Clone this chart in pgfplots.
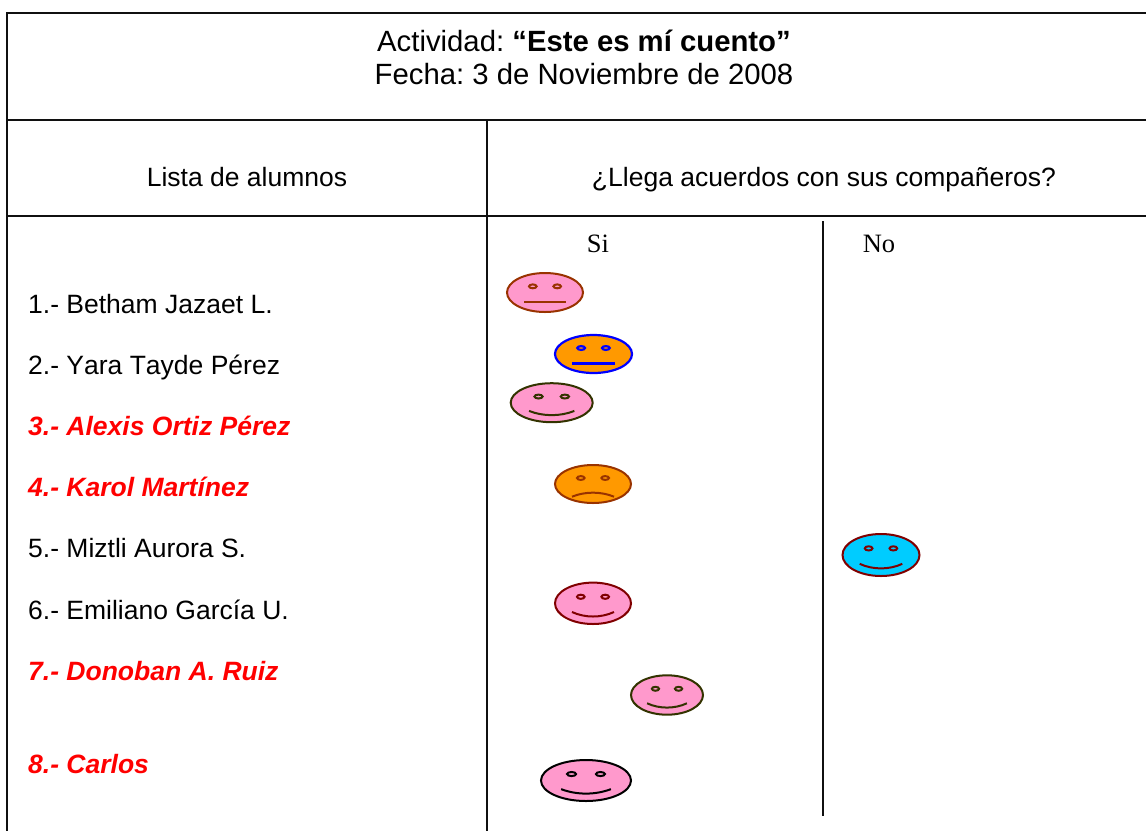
\documentclass[border=0pt]{standalone}
\usepackage{pgfplots}
\pgfplotsset{compat=1.18}
\usepackage{fontspec}
\setmainfont[Kerning=Off]{Liberation Sans}
\newfontfamily\serifsi{Liberation Serif}
\definecolor{fpink}{HTML}{FF99CC}
\definecolor{forange}{HTML}{FF9900}
\definecolor{fblue}{HTML}{00CCFF}
\definecolor{sbrown}{HTML}{993300}
\definecolor{solive}{HTML}{333300}
\definecolor{sred}{HTML}{800000}
\definecolor{rule}{HTML}{101010}
% nominal face: half-axes 38 x 19
\newcommand{\facebase}{%
  \pgfpathellipse{\pgfpointorigin}{\pgfqpoint{38pt}{0pt}}{\pgfqpoint{0pt}{19pt}}%
  \pgfusepathqfillstroke
  \pgfpathellipse{\pgfqpoint{-12.2pt}{6pt}}{\pgfqpoint{3.8pt}{0pt}}{\pgfqpoint{0pt}{1.9pt}}%
  \pgfpathellipse{\pgfqpoint{12.2pt}{6pt}}{\pgfqpoint{3.8pt}{0pt}}{\pgfqpoint{0pt}{1.9pt}}%
  \pgfusepathqfillstroke}
\pgfdeclareplotmark{faceneutral}{\facebase
  \pgfpathmoveto{\pgfqpoint{-21pt}{-9.5pt}}%
  \pgfpathlineto{\pgfqpoint{21pt}{-9.5pt}}%
  \pgfusepathqstroke}
\pgfdeclareplotmark{facesmile}{\facebase
  \pgfpathmoveto{\pgfqpoint{-21pt}{-8pt}}%
  \pgfpathcurveto{\pgfqpoint{-8pt}{-13.5pt}}{\pgfqpoint{8pt}{-13.5pt}}{\pgfqpoint{21pt}{-8pt}}%
  \pgfusepathqstroke}
\pgfdeclareplotmark{facefrown}{\facebase
  \pgfpathmoveto{\pgfqpoint{-21pt}{-12.7pt}}%
  \pgfpathcurveto{\pgfqpoint{-8pt}{-7.3pt}}{\pgfqpoint{8pt}{-7.3pt}}{\pgfqpoint{21pt}{-12.7pt}}%
  \pgfusepathqstroke}
\pgfplotsset{
  rl/.style={rule, line width=2pt, no marks, forget plot},
  fc/.style n args={6}{only marks, forget plot, mark=#1,
    mark options={draw=#3, fill=#2, line width=#6, xscale=#4/38, yscale=#5/19}},
}
\newcommand{\stu}[3]{\node[anchor=base west, inner sep=0pt, font=#3] at (axis cs:28,#1) {#2};}
\newcommand{\txt}{\fontsize{26.5}{30}\selectfont}
\newcommand{\ttxt}{\fontsize{29.3}{33}\selectfont}
\newcommand{\rtxt}{\fontsize{26.5}{30}\selectfont\bfseries\itshape\color{red}}
\frenchspacing
\begin{document}
\begin{tikzpicture}
\begin{axis}[
  width=1146pt, height=831pt, scale only axis,
  xmin=0, xmax=1146, ymin=0, ymax=831, y dir=reverse,
  axis line style={draw=none}, ticks=none, clip=true,
]
% table rules
\addplot[rl] coordinates {(6,12.5) (1146,12.5)};
\addplot[rl] coordinates {(6,119.5) (1146,119.5)};
\addplot[rl] coordinates {(6,215.5) (1146,215.5)};
\addplot[rl] coordinates {(7,12) (7,831)};
\addplot[rl] coordinates {(487,120) (487,831)};
\addplot[rl] coordinates {(823,221) (823,816)};
% faces
\addplot[fc={faceneutral}{fpink}{sbrown}{38}{19.5}{2pt}] coordinates {(545,292.5)};
\addplot[fc={faceneutral}{forange}{blue}{38.5}{19}{2.2pt}] coordinates {(593.5,354)};
\addplot[fc={facesmile}{fpink}{solive}{41}{19.5}{2pt}] coordinates {(551.7,402.7)};
\addplot[fc={facefrown}{forange}{sbrown}{38}{19}{2pt}] coordinates {(593,484)};
\addplot[fc={facesmile}{fblue}{sred}{38.5}{21}{2pt}] coordinates {(881,555)};
\addplot[fc={facesmile}{fpink}{sred}{38}{20.7}{2pt}] coordinates {(593,603.3)};
\addplot[fc={facesmile}{fpink}{solive}{36}{19.7}{2pt}] coordinates {(667,695)};
\addplot[fc={facesmile}{fpink}{black}{45}{20.5}{2pt}] coordinates {(586,780.5)};
% text
\node[anchor=base, inner sep=0pt, font=\ttxt] at (axis cs:584,51) {Actividad: \textbf{“Este es mí cuento”}};
\node[anchor=base, inner sep=0pt, font=\ttxt] at (axis cs:584,84) {Fecha: 3 de Noviembre de 2008};
\node[anchor=base, inner sep=0pt, font=\txt] at (axis cs:247,186) {Lista de alumnos};
\node[anchor=base, inner sep=0pt, font=\txt] at (axis cs:824,186) {¿Llega acuerdos con sus compañeros?};
\node[anchor=base, inner sep=0pt, font=\serifsi\fontsize{26.5}{30}\selectfont] at (axis cs:598,252) {Si};
\node[anchor=base, inner sep=0pt, font=\serifsi\fontsize{26.5}{30}\selectfont] at (axis cs:879,252) {No};
\stu{313}{1.- Betham Jazaet L.}{\txt}
\stu{374}{2.- Yara Tayde Pérez}{\txt}
\stu{435}{3.- Alexis Ortiz Pérez}{\rtxt}
\stu{496}{4.- Karol Martínez}{\rtxt}
\stu{557}{5.- Miztli Aurora S.}{\txt}
\stu{619}{6.- Emiliano García U.}{\txt}
\stu{680}{7.- Donoban A. Ruiz}{\rtxt}
\stu{773}{8.- Carlos}{\rtxt}
\end{axis}
\end{tikzpicture}
\end{document}
